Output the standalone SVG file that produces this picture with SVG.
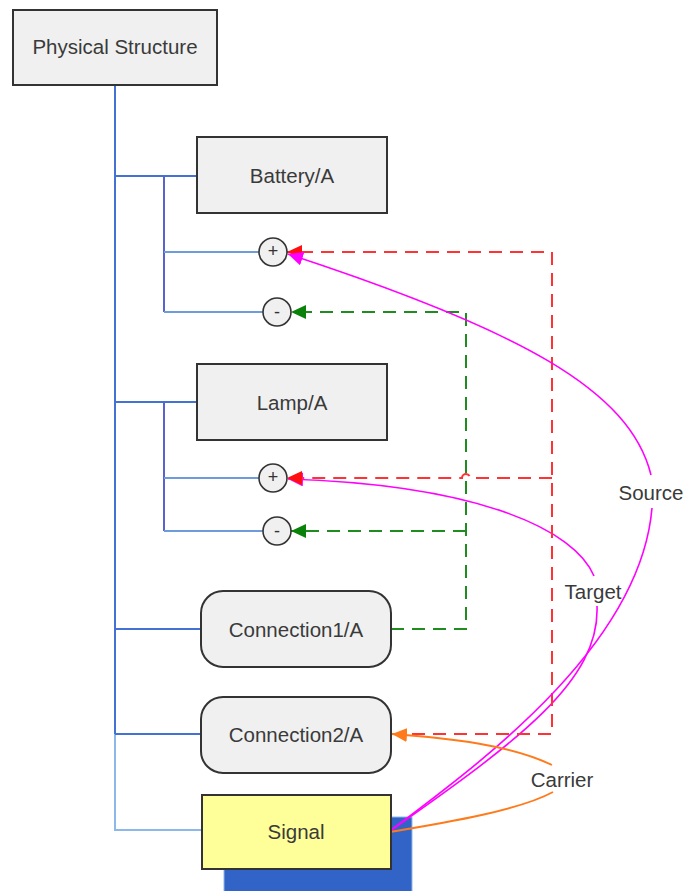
<svg xmlns="http://www.w3.org/2000/svg" width="686" height="891" viewBox="0 0 686 891">
<style>
.box{fill:#F0F0F0;stroke:#333;stroke-width:2}
.lbl{font-family:"Liberation Sans",Arial,sans-serif;font-size:20.5px;fill:#3a3a3a;text-anchor:middle;dominant-baseline:central}
.pin{fill:#F0F0F0;stroke:#333;stroke-width:1.6}
.pt{font-family:"Liberation Sans",Arial,sans-serif;font-size:18px;fill:#333;text-anchor:middle;dominant-baseline:central}
.tree{fill:none;stroke:#4472D4;stroke-width:2}
.tree2{fill:none;stroke:#5A62D0;stroke-width:2}
.br{fill:none;stroke:#6E9CDA;stroke-width:2}
.lt{fill:none;stroke:#8DB8EA;stroke-width:2}
.red{fill:none;stroke:#FF3333;stroke-width:2;stroke-dasharray:13 8}
.grn{fill:none;stroke:#1E8C1E;stroke-width:2;stroke-dasharray:13 8}
.mag{fill:none;stroke:#FF00FF;stroke-width:1.6}
.org{fill:none;stroke:#FF7A1A;stroke-width:1.8}
</style>
<defs>
<marker id="aR" markerUnits="userSpaceOnUse" markerWidth="16" markerHeight="14" refX="15" refY="7" orient="auto"><path d="M0,0 L15,7 L0,14 Z" fill="#FF1010"/></marker>
<marker id="aG" markerUnits="userSpaceOnUse" markerWidth="16" markerHeight="14" refX="15" refY="7" orient="auto"><path d="M0,0 L15,7 L0,14 Z" fill="#0A820A"/></marker>
<marker id="aM" markerUnits="userSpaceOnUse" markerWidth="16" markerHeight="14" refX="15" refY="7" orient="auto"><path d="M0,0 L15,7 L0,14 Z" fill="#FF00FF"/></marker>
<marker id="aO" markerUnits="userSpaceOnUse" markerWidth="16" markerHeight="14" refX="15" refY="7" orient="auto"><path d="M0,0 L15,7 L0,14 Z" fill="#FF7A1A"/></marker>
</defs>
<rect width="686" height="891" fill="#fff"/>
<rect x="224" y="817" width="188" height="76" fill="#3264C8" stroke="#8DB8EA" stroke-width="1"/>
<g id="connectors">
<path class="tree" d="M115,85 V734"/>
<path class="lt" d="M115,734 V830 H202"/>
<path class="tree" d="M115,176 H197 M115,402 H197 M115,629 H201 M115,734 H201"/>
<path class="tree2" d="M164,176 V312 M164,402 V531"/>
<path class="br" d="M164,252 H259 M164,312 H263 M164,478 H259 M164,531 H263"/>
<path class="grn" d="M391,629 H466 V312 H291" marker-end="url(#aG)"/>
<path class="grn" d="M466,531 H291" marker-end="url(#aG)"/>
<path class="mag" d="M594,576 C575,530 480,485 288,479" marker-end="url(#aM)"/>
<path class="mag" d="M390,831 C520,740 600,680 597,606"/>
<path class="red" d="M391,734 H552 V252 H287" marker-end="url(#aR)"/>
<path class="red" d="M552,478 H470 A4,4 0 0 0 462,478 H287" marker-end="url(#aR)"/>
<path class="mag" d="M390,831 C470,770 640,650 652,508"/>
<path class="mag" d="M651,475 C630,390 520,330 288,254" marker-end="url(#aM)"/>
<path class="org" d="M390,832 C450,822 520,810 553,792"/>
<path class="org" d="M552,765 C510,745 450,738 392,734" marker-end="url(#aO)"/>
<text class="lbl" x="651" y="492">Source</text>
<text class="lbl" x="593" y="591">Target</text>
<text class="lbl" x="562" y="779">Carrier</text>
</g>
<g id="physical-structure"><rect class="box" x="13" y="10" width="204" height="75"/><text class="lbl" x="115" y="46">Physical Structure</text></g>
<g id="battery"><rect class="box" x="197" y="137" width="190" height="76"/><text class="lbl" x="292" y="175">Battery/A</text></g>
<g id="battery-plus"><circle class="pin" cx="273" cy="252" r="14"/><text class="pt" x="273" y="251">+</text></g>
<g id="battery-minus"><circle class="pin" cx="277" cy="312" r="14"/><text class="pt" x="277" y="312">-</text></g>
<g id="lamp"><rect class="box" x="197" y="364" width="190" height="76"/><text class="lbl" x="292" y="402">Lamp/A</text></g>
<g id="lamp-plus"><circle class="pin" cx="273" cy="478" r="14"/><text class="pt" x="273" y="477">+</text></g>
<g id="lamp-minus"><circle class="pin" cx="277" cy="531" r="14"/><text class="pt" x="277" y="531">-</text></g>
<g id="connection1"><rect class="box" x="201" y="591" width="190" height="76" rx="22"/><text class="lbl" x="296" y="629">Connection1/A</text></g>
<g id="connection2"><rect class="box" x="201" y="697" width="190" height="76" rx="22"/><text class="lbl" x="296" y="734">Connection2/A</text></g>
<g id="signal"><rect x="202" y="795" width="189" height="74" fill="#FFFF99" stroke="#333" stroke-width="2"/><text class="lbl" x="296" y="831">Signal</text></g>
</svg>
